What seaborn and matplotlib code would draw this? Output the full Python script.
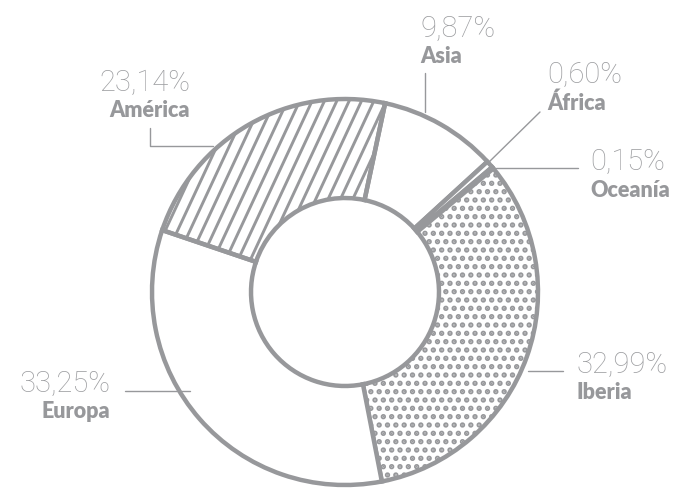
import numpy as np
import seaborn as sns
import matplotlib.pyplot as plt
from matplotlib.collections import LineCollection
from matplotlib.lines import Line2D

# datos
regiones = ['Asia', 'África', 'Oceanía', 'Iberia', 'Europa', 'América']
porcentajes = [9.87, 0.60, 0.15, 32.99, 33.25, 23.14]
etiquetas = ['9,87%', '0,60%', '0,15%', '32,99%', '33,25%', '23,14%']

gris = '#97989b'
gris_txt = '#9c9da0'

sns.set_style('white')
plt.rcParams['font.family'] = ['Lato', 'DejaVu Sans']
plt.rcParams['hatch.color'] = gris
plt.rcParams['hatch.linewidth'] = 2.6

W, H = 675, 492
fig = plt.figure(figsize=(W / 100, H / 100), dpi=100)

# centro del anillo en pixeles y radio
cx, cy, R = 345, 292, 193
lim = 1.05
half = lim * R
ax = fig.add_axes([(cx - half) / W, (H - cy - half) / H, 2 * half / W, 2 * half / H])

wedges, _ = ax.pie(porcentajes, startangle=78, counterclock=False,
                   wedgeprops=dict(width=0.513, edgecolor=gris, linewidth=3.2,
                                   facecolor='white'))
ax.set_xlim(-lim, lim)
ax.set_ylim(-lim, lim)
ax.set_aspect('equal')
ax.axis('off')

# Iberia punteada
wedges[3].set_hatch('..')

# América con rayas inclinadas
ang = np.deg2rad(65)
d = np.array([np.cos(ang), np.sin(ang)]) * 2.5
segs = [[(c - d[0], -d[1]), (c + d[0], d[1])] for c in np.arange(-3.0, 3.0, 0.064)]
rayas = LineCollection(segs, colors=gris, linewidths=2.1, zorder=1.5)
ax.add_collection(rayas)
rayas.set_clip_path(wedges[5])
wedges[5].set_zorder(2)
wedges[5].set_facecolor('none')


def px(x, y):
    return x / W, 1 - y / H


# posiciones de las etiquetas (pixeles): x, y base del %, y base del nombre, alineacion
pos = {
    'Asia': (420, 37, 63, 'left'),
    'África': (547, 83, 110, 'left'),
    'Oceanía': (590, 170, 197, 'left'),
    'Iberia': (576, 373, 399, 'left'),
    'Europa': (110, 392, 418, 'right'),
    'América': (190, 91, 117, 'right'),
}
for reg, et in zip(regiones, etiquetas):
    x, y1, y2, ha = pos[reg]
    fig.text(*px(x, y1), et, ha=ha, va='baseline', fontsize=21,
             family=['Roboto', 'DejaVu Sans'], fontweight='light', color=gris_txt)
    fig.text(*px(x, y2), reg, ha=ha, va='baseline', fontsize=15.5,
             fontweight='heavy', color=gris)

# lineas guia
guias = [
    [(425, 73), (425, 112)],
    [(540, 112), (488, 163)],
    [(496, 168), (578, 168)],
    [(528, 371), (563, 371)],
    [(125, 391), (190, 391)],
    [(150, 128), (150, 146), (213, 146)],
]
for g in guias:
    xs, ys = zip(*[px(*p) for p in g])
    fig.add_artist(Line2D(xs, ys, color=gris, linewidth=1.0))

fig.savefig('out.png', dpi=100)
